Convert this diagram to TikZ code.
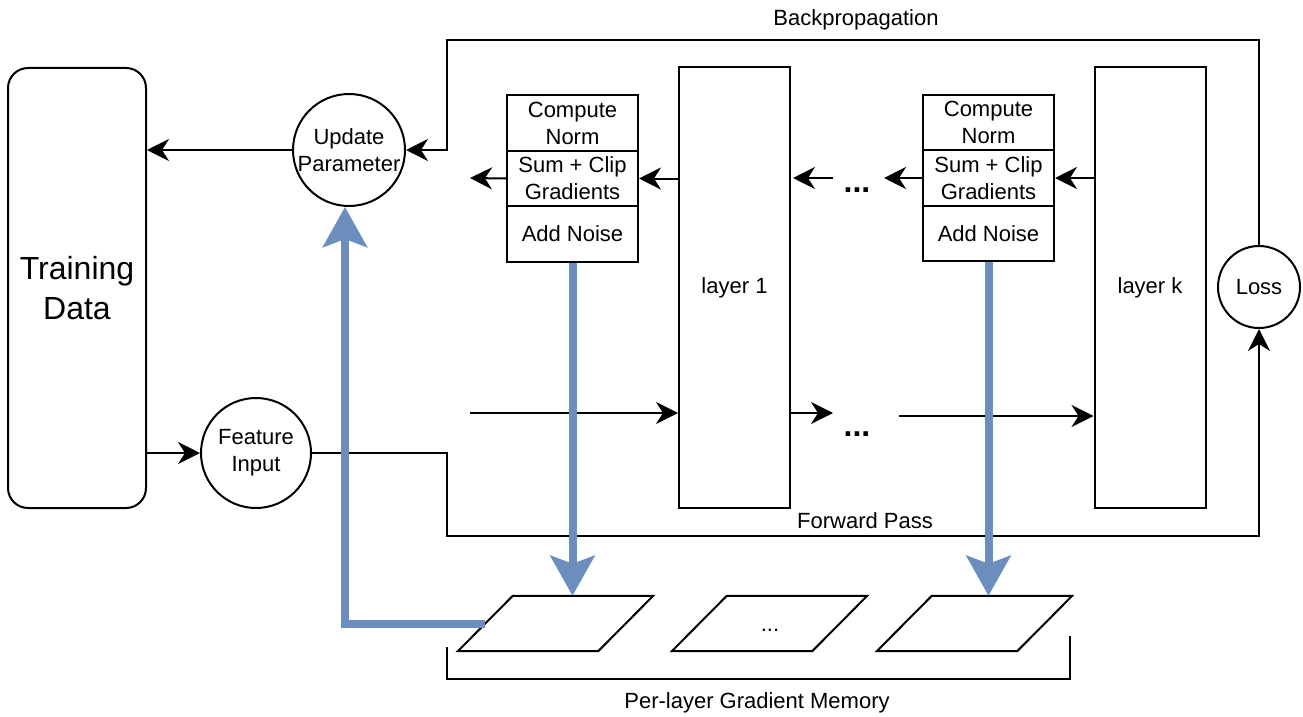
\documentclass[tikz,border=0pt]{standalone}
\usepackage{fontspec}
\setmainfont{Liberation Sans}
\usetikzlibrary{arrows.meta}
\definecolor{gblue}{HTML}{6C8EBF}
\begin{document}
\begin{tikzpicture}[x=1pt,y=-1pt,
  txt/.style={font=\fontsize{22}{27}\selectfont, align=center, inner sep=0pt},
  box/.style={txt, draw, line width=2pt, minimum width=131pt, minimum height=55.5pt},
  layerbox/.style={txt, draw, line width=2pt, minimum width=111pt, minimum height=441pt},
  circ/.style={txt, draw, circle, line width=2pt},
  mem/.style={minimum width=195pt, minimum height=55pt, inner sep=0pt},
  dotsty/.style={font=\fontsize{32}{32}\selectfont\bfseries, inner sep=0pt},
  ln/.style={line width=2pt},
  arr/.style={line width=2pt, -{Stealth[length=22pt,width=22pt,inset=7pt]}},
  barr/.style={gblue, line width=8pt, -{Stealth[length=40pt,width=44pt,inset=8pt]}}
]
\useasboundingbox (0,0) rectangle (1303,717);

% main nodes
\node[draw, line width=2pt, rounded corners=20pt, minimum width=138pt, minimum height=440pt,
      align=center, font=\fontsize{32}{40}\selectfont, inner sep=0pt] (td) at (77,288) {Training\\Data};
\node[circ, minimum size=112pt] (up) at (349,150) {Update\\Parameter};
\node[circ, minimum size=110pt] (fi) at (256,453) {Feature\\Input};
\node[circ, minimum size=82pt] (loss) at (1259,287) {Loss};

\node[box] (b1a) at (572.5,123) {Compute\\Norm};
\node[box] (b1b) at (572.5,178.5) {Sum + Clip\\Gradients};
\node[box] (b1c) at (572.5,234) {Add Noise};
\node[box] (b2a) at (988.5,122.5) {Compute\\Norm};
\node[box] (b2b) at (988.5,178) {Sum + Clip\\Gradients};
\node[box] (b2c) at (988.5,233.5) {Add Noise};

\node[layerbox] (l1) at (734.5,287.5) {layer 1};
\node[layerbox] (lk) at (1150,287.5) {layer k};

\node[dotsty] (dt1) at (857,190) {...};
\node[dotsty] (dt2) at (857,434) {...};

\node[mem] (m1) at (555.5,623.5) {};
\node[mem] (m2) at (769.5,623.5) {};
\node[mem] (m3) at (974.5,623.5) {};
\foreach \m in {m1,m2,m3}{
  \draw[ln, line join=miter] (\m.south west) -- ([xshift=-55pt]\m.south east) -- (\m.north east)
     -- ([xshift=55pt]\m.north west) -- cycle;
}
\node[txt] (m2t) at (770,630) {...};

\node[txt] (bplabel) at (856,20) {Backpropagation};
\node[txt] (fplabel) at (865,521) {Forward Pass};
\node[txt] (memlabel) at (757,703) {Per-layer Gradient Memory};

% coordinates
\coordinate (bpA) at (447,40);
\coordinate (fpA) at (447,536);
\coordinate (bk0) at (470,178);
\coordinate (bk1s) at (833,178);
\coordinate (bk1e) at (793,178);
\coordinate (bk2) at (884,178);
\coordinate (fw0) at (470,413);
\coordinate (fw1) at (833,413);
\coordinate (fw2) at (899,416);
\coordinate (brA) at (447,647);
\coordinate (brB) at (447,679);
\coordinate (brC) at (1070,679);
\coordinate (brD) at (1070,636);
\coordinate (bl) at (345,623.5);

% connectors
\draw[arr] (up.west) -- (up.west -| td.east);
\draw[arr] (fi.west -| td.east) -- (fi.west);
\draw[arr] (loss.north) |- (bpA) |- (up.east);
\draw[arr] (fi.east) -| (fpA) -| (loss.south);

\draw[arr] (b2b.east -| lk.west) -- (b2b.east);
\draw[arr] (b2b.west) -- (bk2);
\draw[arr] (bk1s) -- (bk1e);
\draw[arr] (b1b.east -| l1.west) -- (b1b.east);
\draw[arr] (b1b.west) -- (bk0);

\draw[arr] (fw0) -- (fw0 -| l1.west);
\draw[arr] (fw0 -| l1.east) -- (fw1);
\draw[arr] (fw2) -- (fw2 -| lk.west);

\draw[ln] (brA) -- (brB) -- (brC) -- (brD);

% blue memory arrows
\draw[barr] (b1c.south) -- (b1c.south |- m1.north);
\draw[barr] (b2c.south) -- (b2c.south |- m3.north);
\draw[barr] ([xshift=27.5pt]m1.west) -- (bl) -- (bl |- up.south);
\end{tikzpicture}
\end{document}
